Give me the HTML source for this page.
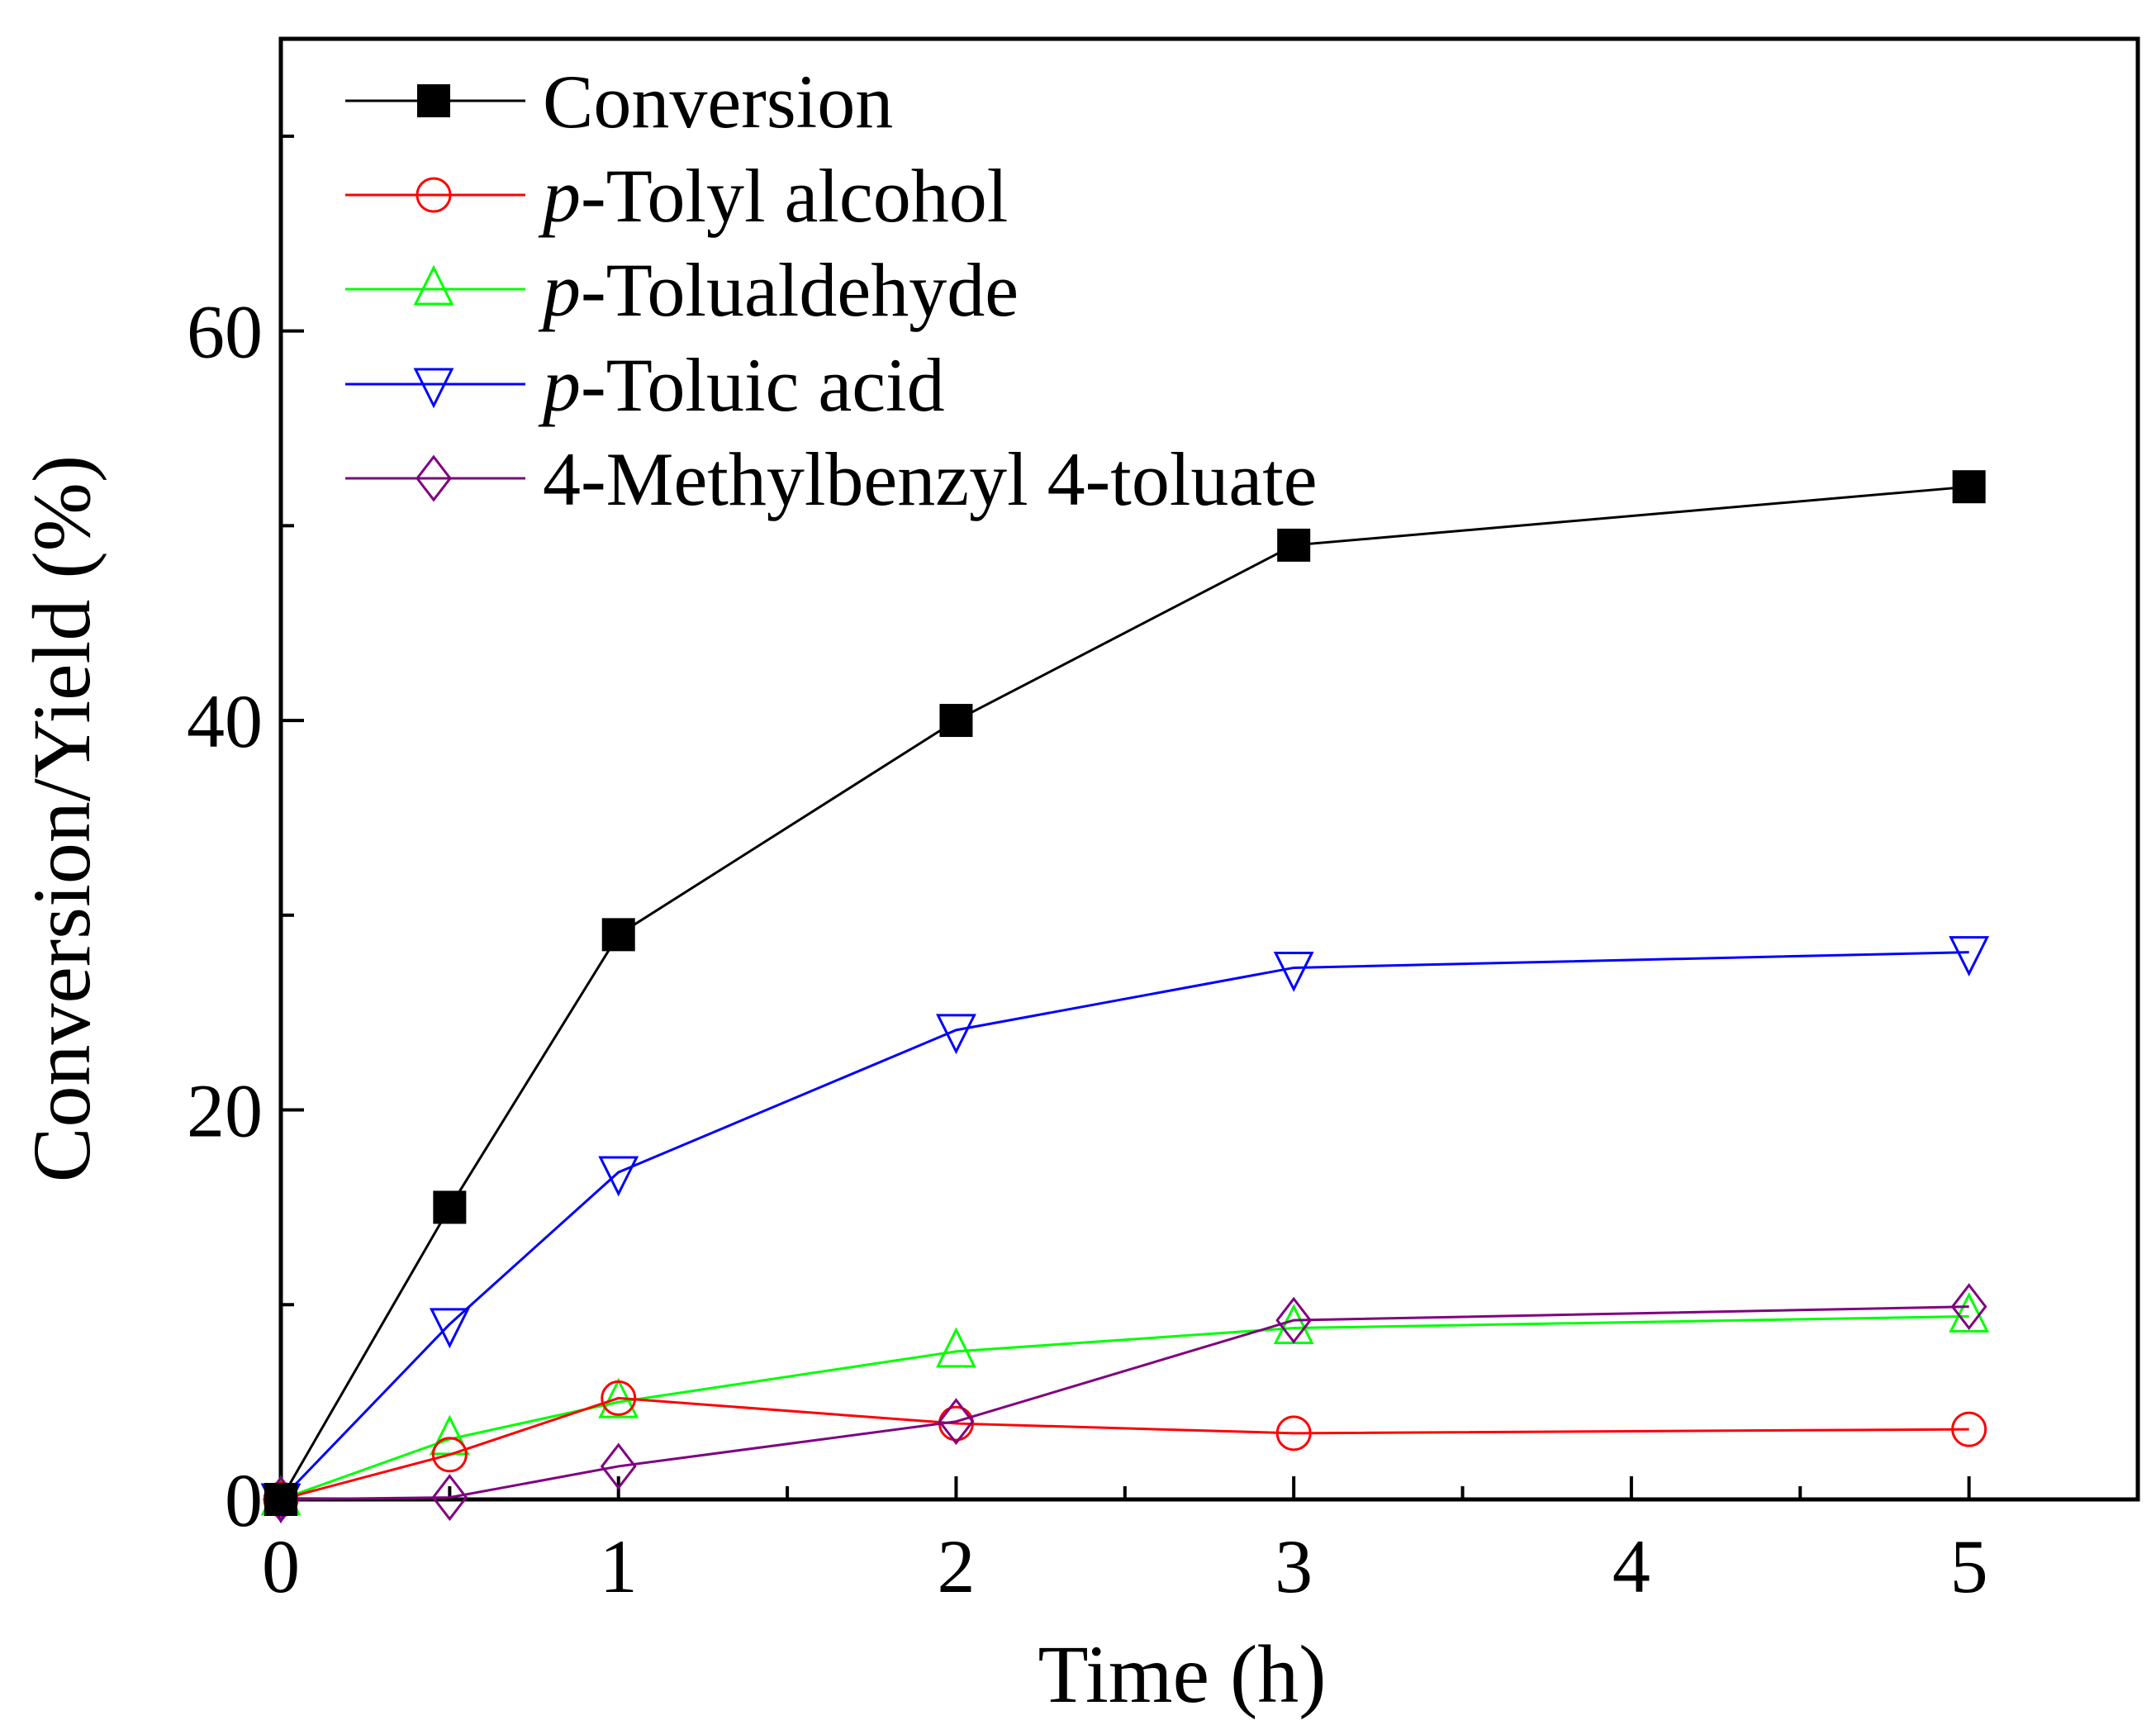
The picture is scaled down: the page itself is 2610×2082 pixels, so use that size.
<!DOCTYPE html>
<html><head><meta charset="utf-8"><style>
html,body{margin:0;padding:0;background:#fff;}
svg{display:block;font-family:"Liberation Serif",serif;}
</style></head><body>
<svg id="chart" width="2610" height="2082" viewBox="0 0 2610 2082" xmlns="http://www.w3.org/2000/svg">
<g id="plot"></g>
</svg>
<script>
const times = [0, 0.5, 1, 2, 3, 5];
const conversion = [0, 15, 29, 40, 49, 52];
const alcohol = [0, 2.3, 5.2, 3.9, 3.4, 3.6];
const aldehyde = [0, 3.1, 5.0, 7.6, 8.8, 9.4];
const acid = [0, 9.0, 16.8, 24.1, 27.3, 28.1];
const ester = [0, 0.1, 1.7, 4.0, 9.2, 9.9];
const xTicks = [0, 1, 2, 3, 4, 5];
const xMinor = [0.5, 1.5, 2.5, 3.5, 4.5];
const yTicks = [0, 20, 40, 60];
const yMinor = [10, 30, 50, 70];
const seriesNames = ["Conversion", "p-Tolyl alcohol", "p-Tolualdehyde", "p-Toluic acid", "4-Methylbenzyl 4-toluate"];

const L=340,R=2588,T=47,B=1815, XMAX=5.5, YMAX=75;
const sx=v=>L+v/XMAX*(R-L);
const sy=v=>B-v/YMAX*(B-T);
const NS="http://www.w3.org/2000/svg";
const svg=document.getElementById('chart');
const g=document.getElementById('plot');
function mk(tag,attrs,parent){const e=document.createElementNS(NS,tag);for(const k in attrs)e.setAttribute(k,attrs[k]);(parent||g).appendChild(e);return e;}

let f=mk('rect',{x:L,y:T,width:R-L,height:B-T,fill:'none',stroke:'#000','stroke-width':5});



xTicks.forEach(v=>{
  let t=mk('line',{x1:sx(v),x2:sx(v),y1:B,y2:B-28,stroke:'#000','stroke-width':4});
  
  
  let tx=mk('text',{x:sx(v),y:B+112,'font-size':92,'text-anchor':'middle'});
  tx.textContent=v;
  
  
});
xMinor.forEach(v=>{
  let t=mk('line',{x1:sx(v),x2:sx(v),y1:B,y2:B-16,stroke:'#000','stroke-width':4});
  
  
});
yTicks.forEach(v=>{
  let t=mk('line',{x1:L,x2:L+28,y1:sy(v),y2:sy(v),stroke:'#000','stroke-width':4});
  
  
  let tx=mk('text',{x:L-22,y:sy(v)+32,'font-size':92,'text-anchor':'end'});
  tx.textContent=v;
  
  
});
yMinor.forEach(v=>{
  let t=mk('line',{x1:L,x2:L+16,y1:sy(v),y2:sy(v),stroke:'#000','stroke-width':4});
  
  
});

let xt=mk('text',{x:(L+R)/2-33,y:2060,'font-size':100,'text-anchor':'middle'});
xt.textContent='Time (h)';


let yt=mk('text',{x:0,y:0,'font-size':100,'text-anchor':'middle',transform:`translate(108,${(T+B)/2+60}) rotate(-90)`});
yt.textContent='Conversion/Yield (%)';



function marker(type,x,y,color,parent){
  const s=20;
  if(type==='square') return mk('rect',{x:x-s,y:y-s,width:2*s,height:2*s,fill:'#000'},parent);
  if(type==='circle') return mk('circle',{cx:x,cy:y,r:s,fill:'none',stroke:color,'stroke-width':3},parent);
  if(type==='up') return mk('polygon',{points:`${x},${y-s-6} ${x-s-2},${y+s-2} ${x+s+2},${y+s-2}`,fill:'none',stroke:color,'stroke-width':3},parent);
  if(type==='down') return mk('polygon',{points:`${x},${y+s+6} ${x-s-2},${y-s+2} ${x+s+2},${y-s+2}`,fill:'none',stroke:color,'stroke-width':3},parent);
  return mk('polygon',{points:`${x},${y-s-6} ${x+s},${y} ${x},${y+s+6} ${x-s},${y}`,fill:'none',stroke:color,'stroke-width':3},parent);
}

const seriesData=[conversion,alcohol,aldehyde,acid,ester];
const colors=['#000','#ff0000','#00ff00','#0000ff','#800080'];
const types=['square','circle','up','down','diamond'];
const keys=['conversion','alcohol','aldehyde','acid','ester'];
[2,1,3,4,0].forEach(i=>{
  const sg=mk('g',{});
  
  
  const pts=times.map((t,j)=>sx(t)+','+sy(seriesData[i][j])).join(' ');
  const ln=mk('polyline',{points:pts,fill:'none',stroke:colors[i],'stroke-width':3},sg);
  
  
  times.forEach((t,j)=>{
    const m=marker(types[i],sx(t),sy(seriesData[i][j]),colors[i],sg);
    
    
  });
});

const lg=mk('g',{});


const rows=[122,236,350,465,579];
seriesNames.forEach((n,i)=>{
  const eg=mk('g',{},lg);
  
  
  mk('line',{x1:418,x2:636,y1:rows[i],y2:rows[i],stroke:colors[i],'stroke-width':3},eg);
  marker(types[i],525,rows[i],colors[i],eg);
  const tx=mk('text',{x:657,y:rows[i]+32,'font-size':92},eg);
  if(n.startsWith('p-')){
    const it=mk('tspan',{'font-style':'italic'},tx);it.textContent='p';
    const r=mk('tspan',{},tx);r.textContent=n.slice(1);
  } else tx.textContent=n;
});
</script>
</body></html>
